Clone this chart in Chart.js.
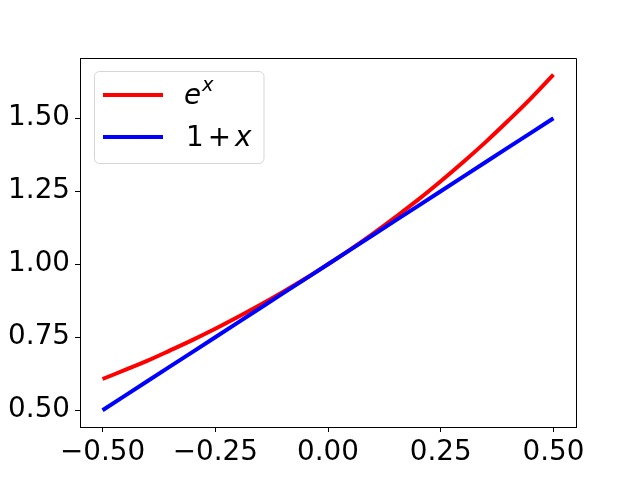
<!DOCTYPE html>
<html>
<head>
<meta charset="utf-8">
<script src="https://cdn.jsdelivr.net/npm/chart.js@4/dist/chart.umd.min.js"></script>
<style>
  body { margin: 0; background: #fff; }
  canvas { display: block; }
</style>
</head>
<body>
<canvas id="c" width="640" height="480"></canvas>
<script>
// ข้อมูล (อ่านค่าจากภาพ)
const xValues = [-0.50, -0.45, -0.40, -0.35, -0.30, -0.25, -0.20, -0.15, -0.10, -0.05, 0.00,
                 0.05, 0.10, 0.15, 0.20, 0.25, 0.30, 0.35, 0.40, 0.45, 0.50];
const expValues = [0.607, 0.638, 0.670, 0.705, 0.741, 0.779, 0.819, 0.861, 0.905, 0.951, 1.000,
                   1.051, 1.105, 1.162, 1.221, 1.284, 1.350, 1.419, 1.492, 1.568, 1.649];
const linValues = [0.50, 0.55, 0.60, 0.65, 0.70, 0.75, 0.80, 0.85, 0.90, 0.95, 1.00,
                   1.05, 1.10, 1.15, 1.20, 1.25, 1.30, 1.35, 1.40, 1.45, 1.50];
const xTicks = [-0.50, -0.25, 0.00, 0.25, 0.50];
const xTickLabels = ['\u22120.50', '\u22120.25', '0.00', '0.25', '0.50'];
const yTicks = [0.50, 0.75, 1.00, 1.25, 1.50];
const yTickLabels = ['0.50', '0.75', '1.00', '1.25', '1.50'];

const FONT = 'DejaVu Sans';
const FS = 27.8;

// กรอบรอบพื้นที่กราฟ
const boxPlugin = {
  id: 'box',
  afterDatasetsDraw(chart) {
    const a = chart.chartArea, g = chart.ctx;
    g.save();
    g.strokeStyle = '#000';
    g.lineWidth = 1;
    g.beginPath();
    g.moveTo(Math.round(a.left) + 0.5, Math.round(a.top) + 0.5);
    g.lineTo(Math.round(a.right) + 0.5, Math.round(a.top) + 0.5);
    g.lineTo(Math.round(a.right) + 0.5, Math.round(a.bottom) + 0.5);
    g.stroke();
    g.restore();
  }
};

// legend แบบ matplotlib (อยู่ในกราฟ มุมซ้ายบน)
const legendPlugin = {
  id: 'mplLegend',
  afterDraw(chart) {
    const g = chart.ctx;
    g.save();
    const x0 = 94.5, y0 = 71.5, w = 169.5, h = 92, r = 5;
    g.beginPath();
    g.roundRect(x0, y0, w, h, r);
    g.fillStyle = 'rgba(255,255,255,0.8)';
    g.fill();
    g.strokeStyle = 'rgba(204,204,204,0.8)';
    g.lineWidth = 1;
    g.stroke();

    const items = chart.data.datasets;
    const rows = [95, 137];
    items.forEach((ds, i) => {
      g.strokeStyle = ds.borderColor;
      g.lineWidth = 4;
      g.beginPath();
      g.moveTo(103, rows[i]);
      g.lineTo(163, rows[i]);
      g.stroke();
    });

    g.fillStyle = '#000';
    g.textBaseline = 'alphabetic';
    g.textAlign = 'left';
    // e^x
    g.font = 'oblique ' + FS + 'px "' + FONT + '"';
    g.fillText('e', 184, 103.5);
    const ew = g.measureText('e').width;
    g.font = 'oblique ' + (FS * 0.7) + 'px "' + FONT + '"';
    g.fillText('x', 184 + ew + 1, 91);
    // 1 + x
    let px = 186;
    g.font = FS + 'px "' + FONT + '"';
    g.fillText('1', px, 146);
    px += g.measureText('1').width + 4;
    g.fillText('+', px, 146);
    px += g.measureText('+').width + 4;
    g.font = 'oblique ' + FS + 'px "' + FONT + '"';
    g.fillText('x', px, 146);
    g.restore();
  }
};

const ctx = document.getElementById('c').getContext('2d');
new Chart(ctx, {
  type: 'line',
  data: {
    datasets: [
      {
        label: 'e^x',
        data: xValues.map((x, i) => ({ x: x, y: expValues[i] })),
        borderColor: '#ff0000',
        borderWidth: 4,
        pointRadius: 0,
        tension: 0.4,
        fill: false,
        order: 1
      },
      {
        label: '1 + x',
        data: xValues.map((x, i) => ({ x: x, y: linValues[i] })),
        borderColor: '#0000ff',
        borderWidth: 4,
        pointRadius: 0,
        tension: 0,
        fill: false,
        order: 0
      }
    ]
  },
  options: {
    responsive: false,
    animation: false,
    events: [],
    layout: { padding: { left: 0, top: 58, right: 64, bottom: 0 } },
    plugins: { legend: { display: false }, tooltip: { enabled: false } },
    scales: {
      x: {
        type: 'linear',
        min: -0.55,
        max: 0.55,
        afterBuildTicks: s => { s.ticks = xTicks.map(v => ({ value: v })); },
        afterFit: s => { s.height = 53; },
        grid: { drawOnChartArea: false, drawTicks: true, tickLength: 5, color: '#000', lineWidth: 1 },
        border: { display: true, color: '#000', width: 1 },
        ticks: {
          autoSkip: false, maxRotation: 0, padding: 4, color: '#000',
          font: { family: FONT, size: FS },
          callback: (v, i) => xTickLabels[i]
        }
      },
      y: {
        type: 'linear',
        min: 0.4426,
        max: 1.7062,
        afterBuildTicks: s => { s.ticks = yTicks.map(v => ({ value: v })); },
        afterFit: s => { s.width = 80; },
        grid: { drawOnChartArea: false, drawTicks: true, tickLength: 5, color: '#000', lineWidth: 1 },
        border: { display: true, color: '#000', width: 1 },
        ticks: {
          autoSkip: false, padding: 5, color: '#000',
          font: { family: FONT, size: FS },
          callback: (v, i) => yTickLabels[i]
        }
      }
    }
  },
  plugins: [boxPlugin, legendPlugin]
});
</script>
</body>
</html>
